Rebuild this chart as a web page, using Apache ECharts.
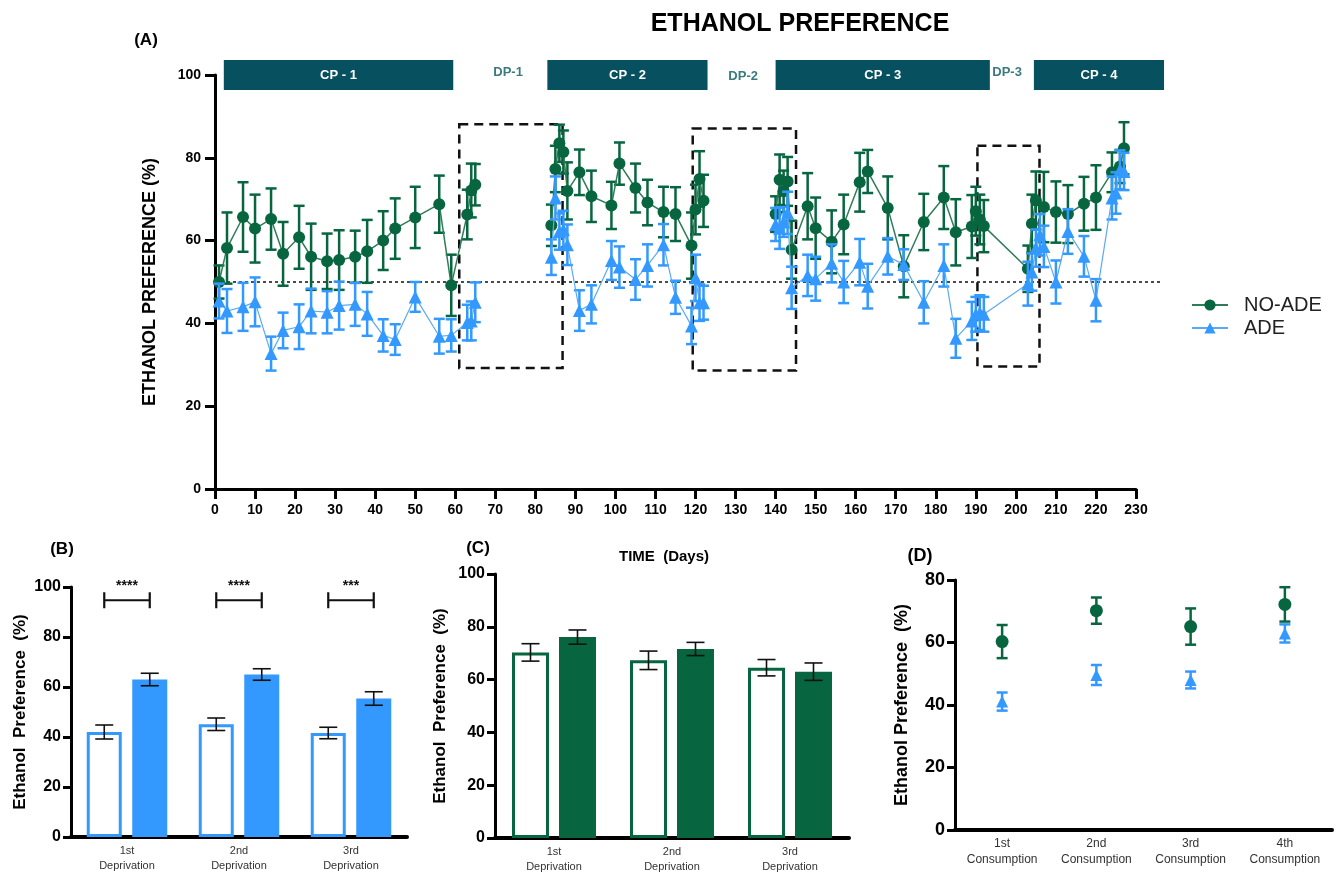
<!DOCTYPE html>
<html>
<head>
<meta charset="utf-8">
<script src="https://cdn.jsdelivr.net/npm/echarts/dist/echarts.min.js"></script>
<style>
    html, body { margin: 0; padding: 0; background: #fff; }
    #main { width: 1339px; height: 881px; }
</style>
</head>
<body>
<div id="main"></div>
<script>
// ---- Panel A: daily preference (%) with SEM ----
const daysNoAde = [1, 3, 7, 10, 14, 17, 21, 24, 28, 31, 35, 38, 42, 45, 50, 56, 59, 63, 64, 65,
    84, 85, 86, 87, 88, 91, 94, 99, 101, 105, 108, 112, 115, 119, 120, 121, 122,
    140, 141, 142, 143, 144, 148, 150, 154, 157, 161, 163, 168, 172, 177, 182, 185, 189, 190, 191, 192,
    203, 204, 205, 207, 210, 213, 217, 220, 224, 226, 227];
const noAde = [50.0, 58.2, 65.7, 62.9, 65.2, 56.8, 60.8, 56.1, 55.0, 55.3, 56.1, 57.4, 60.0, 62.9, 65.6, 68.8, 49.2, 66.3, 72.1, 73.5,
    63.7, 77.3, 83.5, 81.4, 72.0, 76.5, 70.7, 68.5, 78.6, 72.7, 69.2, 66.9, 66.4, 58.8, 67.5, 74.9, 69.6,
    66.4, 74.7, 71.9, 74.3, 57.8, 68.3, 63.0, 59.7, 63.9, 74.1, 76.7, 67.9, 53.8, 64.5, 70.4, 62.0, 63.4, 67.1, 65.1, 63.5,
    53.2, 64.1, 69.7, 68.1, 66.9, 66.4, 68.9, 70.4, 76.5, 77.9, 82.3];
const noAdeErr = [4.0, 8.6, 8.4, 8.2, 7.4, 7.7, 7.6, 8.0, 6.7, 7.2, 6.3, 7.6, 7.1, 7.3, 7.4, 6.9, 7.4, 6.0, 6.5, 5.0,
    5.0, 5.6, 4.5, 5.2, 6.9, 5.5, 6.2, 5.7, 5.1, 5.9, 5.5, 6.1, 6.5, 8.0, 6.0, 6.7, 6.3,
    4.3, 6.1, 5.0, 5.9, 7.0, 8.0, 7.4, 7.6, 7.2, 7.1, 5.2, 7.6, 7.5, 6.8, 7.6, 8.0, 7.6, 5.9, 6.0, 6.3,
    5.6, 7.0, 7.0, 8.5, 7.4, 7.0, 6.5, 7.8, 4.8, 4.0, 6.3];

const daysAde = [1, 3, 7, 10, 14, 17, 21, 24, 28, 31, 35, 38, 42, 45, 50, 56, 59, 63, 64, 65,
    84, 85, 86, 87, 88, 91, 94, 99, 101, 105, 108, 112, 115, 119, 120, 121, 122,
    140, 141, 142, 143, 144, 148, 150, 154, 157, 161, 163, 168, 172, 177, 182, 185, 189, 190, 191, 192,
    203, 204, 205, 206, 207, 210, 213, 217, 220, 224, 225, 226, 227];
const ade = [45.4, 43.0, 44.0, 45.2, 32.7, 38.3, 39.2, 43.0, 42.7, 44.3, 44.6, 42.3, 37.1, 36.1, 46.4, 36.9, 37.1, 40.2, 40.6, 45.1,
    56.0, 70.3, 62.2, 62.7, 59.0, 43.1, 44.6, 55.2, 53.6, 50.6, 54.0, 59.0, 46.3, 39.4, 51.0, 45.0, 45.0,
    63.9, 63.0, 64.5, 66.7, 48.6, 51.6, 50.8, 54.5, 50.0, 54.8, 49.0, 56.2, 54.2, 45.1, 54.0, 36.4, 40.6, 42.2, 42.6, 42.2,
    49.6, 52.4, 58.2, 61.4, 58.6, 50.0, 62.2, 56.2, 45.6, 70.3, 71.5, 77.1, 76.7];
const adeErr = [4.2, 5.3, 5.8, 5.9, 4.1, 4.3, 5.4, 5.4, 5.1, 5.8, 5.2, 5.3, 3.9, 3.7, 3.6, 4.2, 3.9, 4.3, 4.7, 4.8,
    4.3, 5.2, 4.4, 4.5, 4.9, 4.9, 4.6, 4.7, 5.0, 4.9, 5.1, 5.0, 4.0, 4.4, 5.6, 4.4, 4.1,
    4.0, 5.0, 3.6, 5.1, 5.1, 5.0, 5.3, 4.6, 5.1, 5.6, 5.4, 4.4, 3.7, 5.1, 5.1, 4.7, 4.6, 4.2, 4.2, 4.2,
    5.3, 4.5, 4.5, 5.0, 5.0, 5.2, 5.4, 4.9, 5.1, 5.2, 5.0, 4.7, 4.5];

// consumption / deprivation periods (days)
const periodNames = ['CP - 1', 'CP - 2', 'CP - 3', 'CP - 4'];
const periodSpans = [[2.2, 59.5], [83, 123], [140, 193.5], [204.5, 237]];
const dpNames = ['DP-1', 'DP-2', 'DP-3'];
const dpDays = [73.2, 131.9, 197.8];
// deprivation boxes [x0, y0, x1, y1] in data units
const dpBoxes = [[61, 88.1, 86.8, 29.2], [119.3, 87.1, 145.1, 28.6], [190.4, 82.9, 205.9, 29.6]];
const chanceLevel = 50;

// ---- Panel B / C: deprivation effect ----
const depCats = ['1st\nDeprivation', '2nd\nDeprivation', '3rd\nDeprivation'];
const bPre = [42.0, 45.1, 41.6];
const bPreErr = [2.8, 2.5, 2.3];
const bPost = [63.0, 65.0, 55.4];
const bPostErr = [2.5, 2.3, 2.7];
const bSig = ['****', '****', '***'];
const cPre = [70.3, 67.3, 64.5];
const cPreErr = [3.3, 3.5, 3.1];
const cPost = [76.1, 71.6, 63.0];
const cPostErr = [2.7, 2.5, 3.3];

// ---- Panel D: consumption periods ----
const consCats = ['1st\nConsumption', '2nd\nConsumption', '3rd\nConsumption', '4th\nConsumption'];
const dNoAde = [60.3, 70.2, 65.1, 72.2];
const dNoAdeErr = [5.3, 4.2, 5.8, 5.5];
const dAde = [41.1, 49.6, 48.0, 62.9];
const dAdeErr = [2.9, 3.2, 2.7, 2.9];

const GREEN = '#07663f';
const GREEN_LINE = '#2f7d58';
const BLUE = '#3399ff';
const BLUE_LINE = '#5aaaf3';
const TEAL = '#07505f';
const FONT = 'Liberation Sans, Arial, sans-serif';

// 误差线 renderItem
function errRender(capW, color, lw, dx) {
    dx = dx || 0;
    return function (params, api) {
        const x = api.value(0);
        const p1 = api.coord([x, api.value(1)]);
        const p2 = api.coord([x, api.value(2)]);
        const cx = p1[0] + dx, h = capW / 2;
        const st = { stroke: color, lineWidth: lw };
        return {
            type: 'group',
            children: [
                { type: 'line', shape: { x1: cx, y1: p1[1], x2: cx, y2: p2[1] }, style: st },
                { type: 'line', shape: { x1: cx - h, y1: p1[1], x2: cx + h, y2: p1[1] }, style: st },
                { type: 'line', shape: { x1: cx - h, y1: p2[1], x2: cx + h, y2: p2[1] }, style: st }
            ]
        };
    };
}

function errData(xs, vals, errs) {
    return vals.map((v, i) => [xs[i], v - errs[i], v + errs[i]]);
}
const idx = arr => arr.map((_, i) => i);

// 剥夺期不连线：相邻两天间隔过大时插入空点断开
function lineData(days, vals) {
    const out = [];
    days.forEach((d, i) => {
        if (i > 0 && d - days[i - 1] > 12) out.push([(d + days[i - 1]) / 2, null]);
        out.push([d, vals[i]]);
    });
    return out;
}

function valueAxis(grid, max, interval, fontSize, tickLen) {
    return {
        gridIndex: grid, type: 'value', min: 0, max: max, interval: interval,
        axisLine: { show: true, lineStyle: { color: '#000', width: 3 } },
        axisTick: { show: true, length: tickLen, lineStyle: { color: '#000', width: 3 } },
        axisLabel: { color: '#000', fontWeight: 'bold', fontSize: fontSize, fontFamily: FONT, margin: 10 },
        splitLine: { show: false }
    };
}

function catAxis(grid, cats, fontSize) {
    return {
        gridIndex: grid, type: 'category', data: cats,
        axisLine: { show: true, lineStyle: { color: '#000', width: 4 } },
        axisTick: { show: false },
        axisLabel: { color: '#333', fontSize: fontSize, fontFamily: FONT, margin: 6, lineHeight: fontSize + 4, interval: 0 }
    };
}

const chart = echarts.init(document.getElementById('main'));

const yA = valueAxis(0, 100, 20, 14, 10);
yA.axisLabel.margin = 14;
yA.name = 'ETHANOL PREFERENCE (%)';
yA.nameLocation = 'middle';
yA.nameGap = 56;
yA.nameTextStyle = { fontSize: 18, fontWeight: 'bold', color: '#000', fontFamily: FONT };

const xA = valueAxis(0, 230, 10, 14, 10);
xA.axisLabel.margin = 14;

const yB = valueAxis(1, 100, 20, 16, 8);
yB.name = 'Ethanol  Preference  (%)';
yB.nameLocation = 'middle';
yB.nameGap = 42;
yB.nameTextStyle = { fontSize: 17, fontWeight: 'bold', color: '#000', fontFamily: FONT };
const yC = valueAxis(2, 100, 20, 16, 8);
yC.name = 'Ethanol  Preference  (%)';
yC.nameLocation = 'middle';
yC.nameGap = 46;
yC.nameTextStyle = { fontSize: 17, fontWeight: 'bold', color: '#000', fontFamily: FONT };
const yD = valueAxis(3, 80, 20, 18, 8);
yD.name = 'Ethanol Preference  (%)';
yD.nameLocation = 'middle';
yD.nameGap = 44;
yD.nameTextStyle = { fontSize: 18, fontWeight: 'bold', color: '#000', fontFamily: FONT };

const barWB = 35, barWC = 37;

const option = {
    animation: false,
    backgroundColor: '#fff',
    textStyle: { fontFamily: FONT },
    grid: [
        { left: 215, top: 75, width: 921, height: 414 },
        { left: 71, top: 587, width: 336, height: 250 },
        { left: 495, top: 574, width: 354, height: 264 },
        { left: 955, top: 580, width: 377, height: 250 }
    ],
    legend: {
        data: ['NO-ADE', 'ADE'],
        orient: 'vertical', left: 1186, top: 290,
        itemWidth: 36, itemHeight: 14, itemGap: 3,
        textStyle: { fontSize: 20, color: '#222', fontFamily: FONT, padding: [0, 0, 0, 11] }
    },
    xAxis: [xA, catAxis(1, depCats, 11), catAxis(2, depCats, 11), catAxis(3, consCats, 12)],
    yAxis: [yA, yB, yC, yD],
    series: [
        // Panel A
        {
            type: 'custom', name: 'NO-ADE err', xAxisIndex: 0, yAxisIndex: 0, z: 2,
            renderItem: errRender(11, GREEN, 2.5),
            encode: { x: 0, y: [1, 2] },
            data: errData(daysNoAde, noAde, noAdeErr)
        },
        {
            type: 'line', name: 'NO-ADE', xAxisIndex: 0, yAxisIndex: 0, z: 3,
            symbol: 'circle', symbolSize: 12, connectNulls: false,
            lineStyle: { color: GREEN_LINE, width: 1.5 },
            itemStyle: { color: GREEN },
            data: lineData(daysNoAde, noAde),
            markArea: {
                silent: true,
                itemStyle: { color: 'rgba(0,0,0,0)', borderColor: '#111', borderWidth: 2.5, borderType: [9, 6] },
                data: dpBoxes.map(b => [{ coord: [b[0], b[1]] }, { coord: [b[2], b[3]] }])
            }
        },
        {
            type: 'custom', name: 'ADE err', xAxisIndex: 0, yAxisIndex: 0, z: 4,
            renderItem: errRender(11, BLUE, 2.5),
            encode: { x: 0, y: [1, 2] },
            data: errData(daysAde, ade, adeErr)
        },
        {
            type: 'line', name: 'ADE', xAxisIndex: 0, yAxisIndex: 0, z: 5,
            symbol: 'triangle', symbolSize: 13, connectNulls: false,
            lineStyle: { color: BLUE_LINE, width: 1.2 },
            itemStyle: { color: BLUE },
            data: lineData(daysAde, ade)
        },
        // Panel B
        {
            type: 'bar', xAxisIndex: 1, yAxisIndex: 1, barWidth: barWB, barGap: '30%',
            itemStyle: { color: '#fff', borderColor: BLUE, borderWidth: 3 },
            data: bPre
        },
        {
            type: 'bar', xAxisIndex: 1, yAxisIndex: 1, barWidth: barWB, barGap: '30%',
            itemStyle: { color: BLUE },
            data: bPost
        },
        {
            type: 'custom', xAxisIndex: 1, yAxisIndex: 1, z: 5,
            renderItem: errRender(18, '#111', 1.6, -barWB * 0.65),
            data: errData(idx(bPre), bPre, bPreErr)
        },
        {
            type: 'custom', xAxisIndex: 1, yAxisIndex: 1, z: 5,
            renderItem: errRender(18, '#111', 1.6, barWB * 0.65),
            data: errData(idx(bPost), bPost, bPostErr)
        },
        {
            type: 'custom', xAxisIndex: 1, yAxisIndex: 1, z: 5,
            renderItem: function (params, api) {
                const c = api.coord([api.value(0), api.value(1)]);
                const off = barWB * 0.65, x0 = c[0] - off, x1 = c[0] + off, y = c[1];
                const st = { stroke: '#111', lineWidth: 2.2 };
                return {
                    type: 'group',
                    children: [
                        { type: 'line', shape: { x1: x0, y1: y, x2: x1, y2: y }, style: st },
                        { type: 'line', shape: { x1: x0, y1: y - 8, x2: x0, y2: y + 8 }, style: st },
                        { type: 'line', shape: { x1: x1, y1: y - 8, x2: x1, y2: y + 8 }, style: st },
                        { type: 'text', x: c[0], y: y - 14, style: { text: bSig[params.dataIndex], fill: '#111', font: 'bold 14px ' + FONT, align: 'center', verticalAlign: 'middle' } }
                    ]
                };
            },
            data: bSig.map((_, i) => [i, 94.7])
        },
        // Panel C
        {
            type: 'bar', xAxisIndex: 2, yAxisIndex: 2, barWidth: barWC, barGap: '27%',
            itemStyle: { color: '#fff', borderColor: GREEN, borderWidth: 3 },
            data: cPre
        },
        {
            type: 'bar', xAxisIndex: 2, yAxisIndex: 2, barWidth: barWC, barGap: '27%',
            itemStyle: { color: GREEN },
            data: cPost
        },
        {
            type: 'custom', xAxisIndex: 2, yAxisIndex: 2, z: 5,
            renderItem: errRender(18, '#111', 1.6, -barWC * 0.635),
            data: errData(idx(cPre), cPre, cPreErr)
        },
        {
            type: 'custom', xAxisIndex: 2, yAxisIndex: 2, z: 5,
            renderItem: errRender(18, '#111', 1.6, barWC * 0.635),
            data: errData(idx(cPost), cPost, cPostErr)
        },
        // Panel D
        {
            type: 'custom', xAxisIndex: 3, yAxisIndex: 3, z: 2,
            renderItem: errRender(11, GREEN, 2.5),
            data: errData(idx(dNoAde), dNoAde, dNoAdeErr)
        },
        {
            type: 'scatter', xAxisIndex: 3, yAxisIndex: 3, z: 3,
            symbol: 'circle', symbolSize: 13, itemStyle: { color: GREEN, opacity: 1 },
            data: dNoAde
        },
        {
            type: 'custom', xAxisIndex: 3, yAxisIndex: 3, z: 4,
            renderItem: errRender(11, BLUE, 2.5),
            data: errData(idx(dAde), dAde, dAdeErr)
        },
        {
            type: 'scatter', xAxisIndex: 3, yAxisIndex: 3, z: 5,
            symbol: 'triangle', symbolSize: 12, itemStyle: { color: BLUE, opacity: 1 },
            data: dAde
        }
    ]
};

chart.setOption(option);

// 顶部阶段条、DP 标签、50% 参考线、面板标题
function buildGraphics() {
    const toPx = p => chart.convertToPixel({ xAxisIndex: 0, yAxisIndex: 0 }, p);
    const g = [];
    periodSpans.forEach((s, i) => {
        const a = toPx([s[0], 103.6]);
        const b = toPx([s[1], 96.4]);
        g.push({ type: 'rect', z: 10, shape: { x: a[0], y: a[1], width: b[0] - a[0], height: b[1] - a[1] }, style: { fill: TEAL } });
        g.push({ type: 'text', z: 11, x: (a[0] + b[0]) / 2, y: (a[1] + b[1]) / 2,
            style: { text: periodNames[i], fill: '#fff', font: 'bold 13px ' + FONT, align: 'center', verticalAlign: 'middle' } });
    });
    dpNames.forEach((n, i) => {
        const p = toPx([dpDays[i], i === 1 ? 99.7 : 100.6]);
        g.push({ type: 'text', z: 11, x: p[0], y: p[1],
            style: { text: n, fill: '#3b7b7f', font: 'bold 13px ' + FONT, align: 'center', verticalAlign: 'middle' } });
    });
    const l0 = toPx([0, chanceLevel]);
    const l1 = toPx([236, chanceLevel]);
    g.push({ type: 'line', z: 1, shape: { x1: l0[0], y1: l0[1], x2: l1[0], y2: l1[1] },
        style: { stroke: '#111', lineWidth: 1.6, lineDash: [3, 3] } });

    const labels = [
        { t: 'ETHANOL PREFERENCE', x: 800, y: 24, f: 'bold 25px ' + FONT },
        { t: '(A)', x: 146, y: 40, f: 'bold 17px ' + FONT },
        { t: '(B)', x: 62, y: 549, f: 'bold 17px ' + FONT },
        { t: '(C)', x: 478, y: 548, f: 'bold 17px ' + FONT },
        { t: '(D)', x: 920, y: 556, f: 'bold 18px ' + FONT },
        { t: 'TIME  (Days)', x: 664, y: 557, f: 'bold 15px ' + FONT }
    ];
    labels.forEach(l => g.push({ type: 'text', x: l.x, y: l.y,
        style: { text: l.t, fill: '#000', font: l.f, align: 'center', verticalAlign: 'middle' } }));
    return g;
}

chart.setOption({ graphic: buildGraphics() });
</script>
</body>
</html>
